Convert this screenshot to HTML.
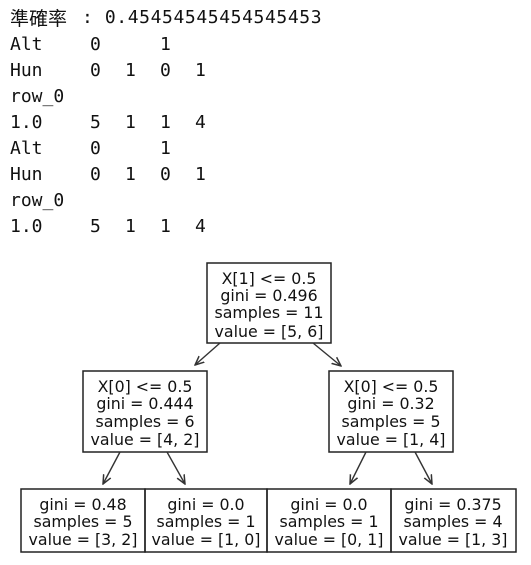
<!DOCTYPE html>
<html><head><meta charset="utf-8"><style>
body{margin:0;background:#fff;width:531px;height:565px;overflow:hidden;position:relative}
.t{position:absolute;font-family:"DejaVu Sans Mono","Noto Sans CJK TC",monospace;font-size:18px;line-height:20px;color:#111;white-space:pre}
svg{position:absolute;left:0;top:0}
svg text{font-family:"DejaVu Sans",sans-serif;font-size:15.8px;fill:#111;text-anchor:middle}
</style></head><body>
<div class="t" style="left:10px;top:8px;font-family:'Noto Sans CJK TC',sans-serif;font-size:19px">準確率</div>
<div class="t" style="left:82px;top:8px;letter-spacing:0.6px">: 0.45454545454545453</div>

<div class="t" style="left:10px;top:35px">Alt</div><div class="t" style="left:90px;top:35px">0</div><div class="t" style="left:160px;top:35px">1</div>
<div class="t" style="left:10px;top:61px">Hun</div><div class="t" style="left:90px;top:61px">0</div><div class="t" style="left:125px;top:61px">1</div><div class="t" style="left:160px;top:61px">0</div><div class="t" style="left:195px;top:61px">1</div>
<div class="t" style="left:10px;top:87px">row_0</div>
<div class="t" style="left:10px;top:113px">1.0</div><div class="t" style="left:90px;top:113px">5</div><div class="t" style="left:125px;top:113px">1</div><div class="t" style="left:160px;top:113px">1</div><div class="t" style="left:195px;top:113px">4</div>
<div class="t" style="left:10px;top:139px">Alt</div><div class="t" style="left:90px;top:139px">0</div><div class="t" style="left:160px;top:139px">1</div>
<div class="t" style="left:10px;top:165px">Hun</div><div class="t" style="left:90px;top:165px">0</div><div class="t" style="left:125px;top:165px">1</div><div class="t" style="left:160px;top:165px">0</div><div class="t" style="left:195px;top:165px">1</div>
<div class="t" style="left:10px;top:191px">row_0</div>
<div class="t" style="left:10px;top:217px">1.0</div><div class="t" style="left:90px;top:217px">5</div><div class="t" style="left:125px;top:217px">1</div><div class="t" style="left:160px;top:217px">1</div><div class="t" style="left:195px;top:217px">4</div>

<svg width="531" height="565" viewBox="0 0 531 565">
<defs><marker id="a" markerWidth="10" markerHeight="10" refX="9" refY="5" orient="auto" markerUnits="userSpaceOnUse"><path d="M0,1 L9,5 L0,9" fill="none" stroke="#333" stroke-width="1.5"/></marker></defs>
<g fill="none" stroke="#222" stroke-width="1.5">
<rect x="207" y="263" width="124" height="80"/>
<rect x="83" y="371" width="124" height="81"/>
<rect x="329" y="371" width="124" height="81"/>
<rect x="21" y="489" width="124" height="63"/>
<rect x="145" y="489" width="122" height="63"/>
<rect x="267" y="489" width="124" height="63"/>
<rect x="391" y="489" width="125" height="63"/>
</g>
<g stroke="#333" stroke-width="1.4" marker-end="url(#a)">
<line x1="220" y1="343" x2="195" y2="365"/>
<line x1="313" y1="343" x2="341" y2="366"/>
<line x1="120" y1="452" x2="103" y2="484"/>
<line x1="167" y1="452" x2="185" y2="484"/>
<line x1="366" y1="452" x2="350" y2="484"/>
<line x1="415" y1="452" x2="432" y2="484"/>
</g>
<text x="269" y="284">X[1] &lt;= 0.5</text><text x="269" y="301">gini = 0.496</text><text x="269" y="318">samples = 11</text><text x="269" y="337">value = [5, 6]</text>
<text x="145" y="392">X[0] &lt;= 0.5</text><text x="145" y="409">gini = 0.444</text><text x="145" y="427">samples = 6</text><text x="145" y="445">value = [4, 2]</text>
<text x="391" y="392">X[0] &lt;= 0.5</text><text x="391" y="409">gini = 0.32</text><text x="391" y="427">samples = 5</text><text x="391" y="445">value = [1, 4]</text>
<text x="83" y="510">gini = 0.48</text><text x="83" y="527">samples = 5</text><text x="83" y="545">value = [3, 2]</text>
<text x="206" y="510">gini = 0.0</text><text x="206" y="527">samples = 1</text><text x="206" y="545">value = [1, 0]</text>
<text x="329" y="510">gini = 0.0</text><text x="329" y="527">samples = 1</text><text x="329" y="545">value = [0, 1]</text>
<text x="453" y="510">gini = 0.375</text><text x="453" y="527">samples = 4</text><text x="453" y="545">value = [1, 3]</text>
</svg>
</body></html>
